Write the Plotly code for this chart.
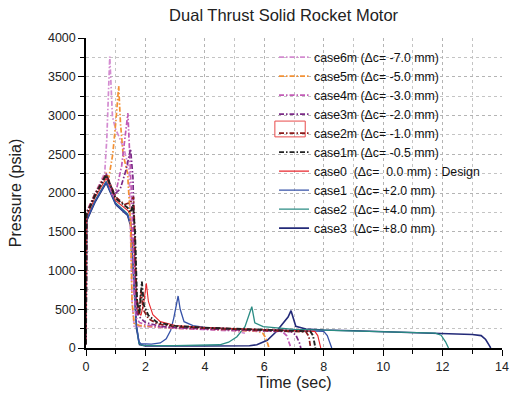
import plotly.graph_objects as go

NB = "\u00a0"

# ---- data ----
case6m_t = [0, 0.02, 0.3, 0.55, 0.63, 0.7, 0.74, 0.8, 0.89, 1.0, 1.12, 1.29, 1.45, 1.5, 1.55, 1.62, 1.8, 2.5, 3, 4, 5, 5.35]
case6m_p = [50, 1760, 1990, 2180, 2260, 2700, 3110, 3760, 2985, 2820, 2720, 2555, 2300, 1500, 600, 280, 275, 265, 255, 240, 220, 190]

case5m_t = [0, 0.02, 0.3, 0.68, 0.77, 0.9, 1.0, 1.1, 1.16, 1.25, 1.4, 1.5, 1.55, 1.62, 1.8, 2.5, 3, 4, 5, 5.8, 5.95, 6.05, 6.12, 6.16]
case5m_p = [50, 1750, 1990, 2260, 2200, 2500, 2900, 3380, 2900, 2500, 2250, 1600, 600, 320, 290, 268, 255, 245, 232, 215, 190, 130, 50, 0]

case4m_t = [0, 0.02, 0.3, 0.68, 0.9, 1.0, 1.2, 1.33, 1.41, 1.47, 1.55, 1.62, 1.7, 1.8, 2.0, 2.5, 3, 4, 5, 6, 6.6, 6.75, 6.85, 6.9]
case4m_p = [50, 1740, 1980, 2250, 1950, 2000, 2350, 2750, 3030, 2500, 1800, 700, 380, 330, 300, 272, 258, 242, 232, 222, 212, 160, 60, 0]

case3m_t = [0, 0.02, 0.3, 0.68, 0.95, 1.15, 1.35, 1.5, 1.58, 1.65, 1.72, 1.8, 2.0, 2.5, 3, 4, 5, 6, 6.9, 7.06, 7.18, 7.23]
case3m_p = [50, 1740, 1985, 2250, 1980, 2050, 2300, 2570, 2200, 1000, 450, 400, 330, 280, 262, 245, 235, 225, 212, 168, 70, 0]

case2m_t = [0, 0.02, 0.3, 0.68, 1.0, 1.3, 1.5, 1.6, 1.65, 1.7, 1.78, 1.85, 1.92, 2.1, 2.4, 3, 4, 5, 6, 7, 7.4, 7.5, 7.54, 7.56]
case2m_p = [50, 1730, 1975, 2240, 1950, 1850, 1880, 1950, 1400, 700, 420, 750, 500, 380, 310, 275, 255, 243, 232, 220, 208, 150, 50, 0]

case1m_t = [0, 0.02, 0.3, 0.68, 1.0, 1.4, 1.5, 1.58, 1.65, 1.72, 1.8, 1.88, 1.95, 2.1, 2.4, 3, 4, 5, 6, 7, 7.55, 7.64, 7.7, 7.72]
case1m_p = [50, 1720, 1965, 2230, 1930, 1810, 1750, 1850, 1500, 600, 450, 856, 550, 420, 330, 285, 262, 248, 238, 226, 214, 160, 60, 0]

case0_t = [0, 0.02, 0.3, 0.68, 1.0, 1.42, 1.5, 1.55, 1.6, 1.65, 1.72, 1.85, 1.95, 2.03, 2.1, 2.25, 2.5, 3, 4, 5, 6, 7, 7.7, 7.8, 7.86, 7.9]
case0_p = [50, 1690, 1940, 2190, 1900, 1770, 1700, 1350, 1400, 1000, 500, 420, 600, 835, 600, 430, 340, 290, 265, 250, 240, 228, 215, 160, 70, 0]

case1_t = [0, 0.02, 0.3, 0.68, 1.0, 1.4, 1.5, 1.6, 1.7, 1.78, 1.85, 2.2, 2.5, 2.7, 2.85, 2.95, 3.05, 3.1, 3.17, 3.3, 3.6, 4, 5, 6, 7, 8.0, 8.12, 8.22, 8.27]
case1_p = [50, 1650, 1890, 2140, 1860, 1720, 1600, 1000, 300, 80, 55, 50, 65, 120, 230, 380, 580, 671, 500, 340, 290, 265, 245, 235, 228, 215, 160, 60, 0]

case2_t = [0, 0.02, 0.3, 0.68, 1.0, 1.4, 1.5, 1.6, 1.7, 1.78, 1.9, 3, 4, 4.5, 4.8, 5.08, 5.35, 5.5, 5.58, 5.68, 5.96, 7, 8, 9, 10, 11, 11.75, 11.95, 12.1, 12.2]
case2_p = [50, 1660, 1900, 2150, 1870, 1730, 1620, 1000, 300, 60, 35, 30, 33, 42, 75, 146, 275, 430, 533, 326, 275, 240, 228, 220, 210, 200, 192, 165, 80, 0]

case3_t = [0, 0.02, 0.3, 0.68, 1.0, 1.4, 1.5, 1.6, 1.7, 1.8, 2.0, 4, 5.5, 5.75, 6.1, 6.4, 6.6, 6.8, 6.9, 6.97, 7.06, 7.4, 8, 9, 10, 11, 12, 13, 13.3, 13.45, 13.56, 13.62]
case3_p = [50, 1640, 1880, 2130, 1850, 1710, 1580, 900, 250, 45, 28, 25, 30, 42, 100, 210, 300, 400, 482, 380, 280, 245, 232, 222, 212, 203, 190, 175, 160, 110, 40, 0]

names = {
    "case6m": "case6m (\u0394c= -7.0 mm)",
    "case5m": "case5m (\u0394c= -5.0 mm)",
    "case4m": "case4m (\u0394c= -3.0 mm)",
    "case3m": "case3m (\u0394c= -2.0 mm)",
    "case2m": "case2m (\u0394c= -1.0 mm)",
    "case1m": "case1m (\u0394c= -0.5 mm)",
    "case0": "case0" + NB + NB + "(\u0394c=" + NB + NB + "0.0 mm)" + NB + ":" + NB + "Design",
    "case1": "case1" + NB + NB + "(\u0394c= +2.0 mm)",
    "case2": "case2" + NB + NB + "(\u0394c= +4.0 mm)",
    "case3": "case3" + NB + NB + "(\u0394c= +8.0 mm)",
}

DD = "5px,2px,1.5px,2px"
series = [
    # key, t, p, color, dash, width, legend rank
    ("case3", case3_t, case3_p, "#232a78", "solid", 1.6, 10),
    ("case2", case2_t, case2_p, "#2b8c84", "solid", 1.3, 9),
    ("case1", case1_t, case1_p, "#3652a8", "solid", 1.3, 8),
    ("case0", case0_t, case0_p, "#e8262c", "solid", 1.1, 7),
    ("case6m", case6m_t, case6m_p, "#d38bd0", DD, 1.7, 1),
    ("case5m", case5m_t, case5m_p, "#f39134", DD, 1.7, 2),
    ("case4m", case4m_t, case4m_p, "#c25ab6", DD, 1.7, 3),
    ("case3m", case3m_t, case3m_p, "#7b2a87", DD, 1.7, 4),
    ("case2m", case2m_t, case2m_p, "#8b1a1a", DD, 1.7, 5),
    ("case1m", case1m_t, case1m_p, "#222222", DD, 1.9, 6),
]

fig = go.Figure()
for key, t, p, col, dash, w, rank in series:
    fig.add_trace(go.Scatter(
        x=t, y=p, mode="lines", name=names[key], legendrank=rank,
        line=dict(color=col, dash=dash, width=w),
    ))

grid = dict(showgrid=True, gridcolor="#b4b4b4", griddash="dot", gridwidth=1)
minor = dict(ticklen=4, tickcolor="black", ticks="outside", showgrid=True,
             gridcolor="#c4c4c4", griddash="dot", gridwidth=1)

fig.update_layout(
    width=513, height=396,
    margin=dict(l=86, r=4, t=38, b=48),
    paper_bgcolor="white", plot_bgcolor="white",
    font=dict(family="Liberation Sans, Arial, sans-serif", size=12, color="#222"),
    title=dict(text="Dual Thrust Solid Rocket Motor", x=0.475, xref="paper",
               y=0.962, yref="container", yanchor="middle", xanchor="center",
               font=dict(size=16.5, color="#222")),
    showlegend=True,
    legend=dict(x=0.452, y=0.985, xanchor="left", yanchor="top",
                bgcolor="rgba(0,0,0,0)", font=dict(size=12.3, color="#111"),
                tracegroupgap=0, itemwidth=30),
    xaxis=dict(range=[0, 14], dtick=2, tick0=0, ticks="outside", ticklen=6,
               tickcolor="black", showline=True, linecolor="black", linewidth=1.5,
               zeroline=False, minor=dict(dtick=1, **minor),
               ticklabeloverflow="allow",
               title=dict(text="Time (sec)", font=dict(size=16), standoff=4),
               tickfont=dict(size=12.5), **grid),
    yaxis=dict(range=[0, 4000], dtick=500, tick0=0, ticks="outside", ticklen=6,
               tickcolor="black", showline=True, linecolor="black", linewidth=1.5,
               zeroline=False, minor=dict(dtick=250, **minor),
               title=dict(text="Pressure (psia)", font=dict(size=16), standoff=22),
               tickfont=dict(size=12.5), **grid),
)

# selection box drawn around the case2m legend symbol in the reference
fig.add_shape(type="rect", xref="paper", yref="paper",
              x0=0.454, x1=0.527, y0=0.681, y1=0.732,
              line=dict(color="#e84a4a", width=1), fillcolor="rgba(0,0,0,0)")

fig.write_html("out.html")
